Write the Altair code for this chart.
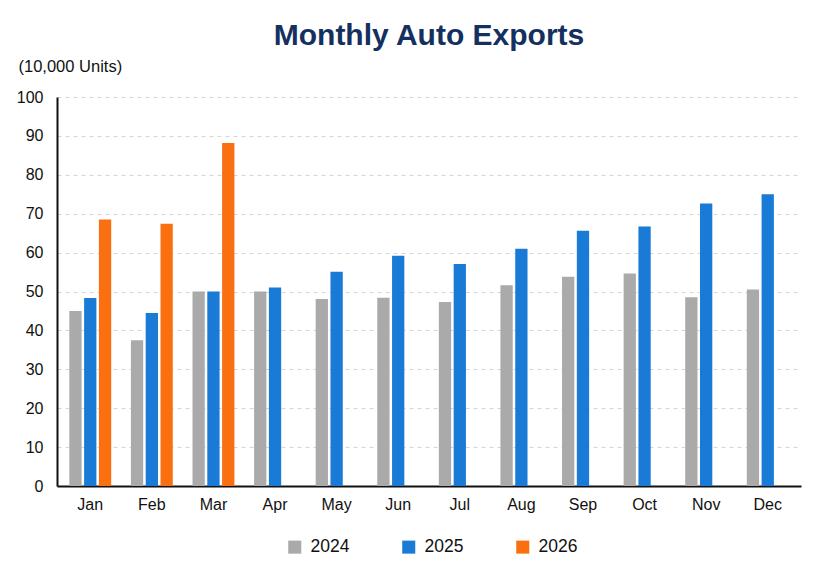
import altair as alt
import pandas as pd

months = ["Jan", "Feb", "Mar", "Apr", "May", "Jun", "Jul", "Aug", "Sep", "Oct", "Nov", "Dec"]
v2024 = [45.0, 37.5, 50.0, 50.0, 48.1, 48.4, 47.3, 51.6, 53.8, 54.6, 48.5, 50.5]
v2025 = [48.3, 44.5, 50.0, 51.0, 55.1, 59.2, 57.1, 61.0, 65.6, 66.7, 72.6, 75.0]
v2026 = [68.5, 67.4, 88.2]
years = ["2024", "2025", "2026"]
colors = ["#aaaaaa", "#1a7bd6", "#fa6f10"]

rows = []
for i, m in enumerate(months):
    rows.append({"month": m, "year": "2024", "value": v2024[i]})
    rows.append({"month": m, "year": "2025", "value": v2025[i]})
for i, v in enumerate(v2026):
    rows.append({"month": months[i], "year": "2026", "value": v})
df = pd.DataFrame(rows)

FONT = "Liberation Sans"

chart = alt.Chart(df).mark_bar().encode(
    x=alt.X("month:N", sort=months,
            scale=alt.Scale(paddingInner=0.32, paddingOuter=0.2),
            axis=alt.Axis(title=None, labelAngle=0, ticks=False, domainColor="#111111",
                          domainWidth=2, labelFontSize=16, labelColor="#111111",
                          labelPadding=10, labelFont=FONT, grid=False)),
    xOffset=alt.XOffset("year:N", sort=years, scale=alt.Scale(paddingInner=0.17)),
    y=alt.Y("value:Q", scale=alt.Scale(domain=[0, 100]),
            axis=alt.Axis(values=list(range(0, 101, 10)), ticks=False, domainColor="#111111",
                          domainWidth=2, labelFontSize=16, labelColor="#111111",
                          labelFont=FONT, labelPadding=14,
                          gridColor="#d6d6d6", gridDash=[4, 4], gridWidth=1,
                          title="(10,000 Units)", titleAngle=0, titleAlign="left",
                          titleBaseline="middle", titleX=-39, titleY=-31,
                          titleFontSize=16.5, titleFontWeight="normal", titleFont=FONT,
                          titleColor="#111111")),
    color=alt.Color("year:N", sort=years,
                    scale=alt.Scale(domain=years, range=colors),
                    legend=alt.Legend(title=None, orient="none", direction="horizontal",
                                      legendX=229, legendY=441,
                                      symbolType="square", symbolSize=170,
                                      symbolStrokeWidth=0, labelFontSize=17.5,
                                      labelFont=FONT, labelColor="#111111",
                                      columnPadding=50, labelOffset=7)),
).properties(
    width=744,
    height=389,
    title=alt.TitleParams("Monthly Auto Exports", fontSize=30, font=FONT,
                          fontWeight="bold", color="#14305f", anchor="middle", offset=7),
    padding={"left": 49, "top": 89, "right": 9, "bottom": 73},
    autosize=alt.AutoSizeParams(type="none"),
).configure(background="white").configure_view(stroke=None)

chart.save("out.html", embed_options={"renderer": "svg", "actions": False})
